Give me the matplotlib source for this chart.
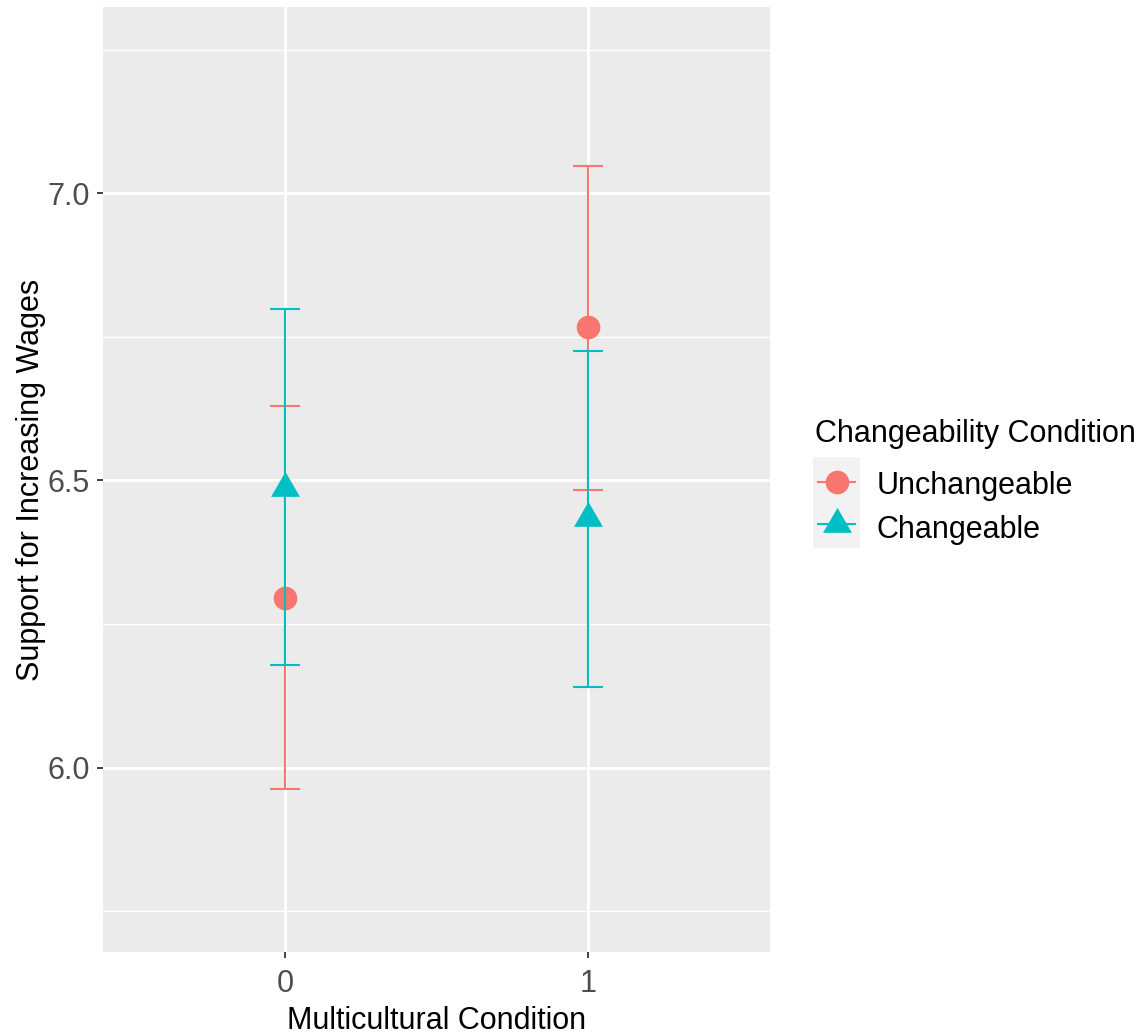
import matplotlib.pyplot as plt
from matplotlib.lines import Line2D
from matplotlib.patches import Rectangle
from matplotlib.path import Path

plt.rcParams['font.family'] = ['Liberation Sans', 'DejaVu Sans']

# Data
conditions = [0, 1]
groups = ['Unchangeable', 'Changeable']
means = {
    'Unchangeable': [6.296, 6.767],
    'Changeable': [6.486, 6.434],
}
lower = {
    'Unchangeable': [5.963, 6.484],
    'Changeable': [6.179, 6.141],
}
upper = {
    'Unchangeable': [6.629, 7.047],
    'Changeable': [6.798, 6.725],
}

colors = {'Unchangeable': '#F8766D', 'Changeable': '#00BFC4'}

# R-style filled triangle (pch 17): centroid sits on the data point
tri = Path([(0, 1.5551), (1.3468, -0.7776), (-1.3468, -0.7776), (0, 1.5551)],
           [Path.MOVETO, Path.LINETO, Path.LINETO, Path.CLOSEPOLY])
markers = {'Unchangeable': 'o', 'Changeable': tri}
msizes = {'Unchangeable': 17, 'Changeable': 24}

W, H = 1145, 1036
fig = plt.figure(figsize=(W / 100, H / 100), dpi=100)
ax = fig.add_axes([103 / W, 1 - 952 / H, (770 - 103) / W, (952 - 7) / H])
ax.set_facecolor('#EBEBEB')

# points first, error bars on top (as in the reference)
for g in groups:
    ax.plot(conditions, means[g], linestyle='none', marker=markers[g],
            markersize=msizes[g], color=colors[g], markeredgewidth=0, zorder=3)

for i, g in enumerate(groups):
    yerr = [[m - lo for m, lo in zip(means[g], lower[g])],
            [hi - m for m, hi in zip(means[g], upper[g])]]
    ax.errorbar(conditions, means[g], yerr=yerr, fmt='none', ecolor=colors[g],
                elinewidth=1.5, capsize=11, capthick=1.5, zorder=4 + i)

ax.set_xlim(-0.6, 1.6)
ax.set_ylim(5.679, 7.324)
ax.set_xticks(conditions)
ax.set_xticklabels(['0', '1'])
ax.set_yticks([6.0, 6.5, 7.0])
ax.set_yticklabels(['6.0', '6.5', '7.0'])
ax.set_yticks([5.75, 6.25, 6.75, 7.25], minor=True)
ax.set_xticks([], minor=True)

ax.grid(True, which='major', color='white', linewidth=2.0)
ax.grid(True, which='minor', axis='y', color='white', linewidth=1.0)
ax.set_axisbelow(True)
for s in ax.spines.values():
    s.set_visible(False)

ax.tick_params(axis='both', which='major', length=4, width=1.3, color='#333333',
               labelsize=22, labelcolor='#4D4D4D', pad=5.5)
ax.tick_params(axis='x', which='major', pad=8)
ax.tick_params(axis='y', which='minor', length=0)

ax.set_xlabel('Multicultural Condition', fontsize=22, labelpad=5)
ax.set_ylabel('Support for Increasing Wages', fontsize=22, labelpad=1)

# legend, laid out like ggplot's guide
fig.text(815 / W, 1 - 442 / H, 'Changeability Condition', fontsize=22,
         ha='left', va='baseline')
fig.patches.append(Rectangle((813 / W, 1 - 548 / H), 47 / W, 91 / H,
                             transform=fig.transFigure, facecolor='#F2F2F2',
                             edgecolor='none', zorder=0))
for i, g in enumerate(groups):
    yc = 1 - (482 + 42 * i) / H
    fig.add_artist(Line2D([818 / W, 855 / W], [yc, yc], transform=fig.transFigure,
                          color=colors[g], linewidth=1.5))
    fig.add_artist(Line2D([837 / W], [yc], transform=fig.transFigure,
                          color=colors[g], marker=markers[g], markersize=msizes[g],
                          markeredgewidth=0, linestyle='none'))
    fig.text(877 / W, 1 - (494 + 44 * i) / H, g, fontsize=22, ha='left',
             va='baseline')

fig.savefig('out.png', dpi=100)
